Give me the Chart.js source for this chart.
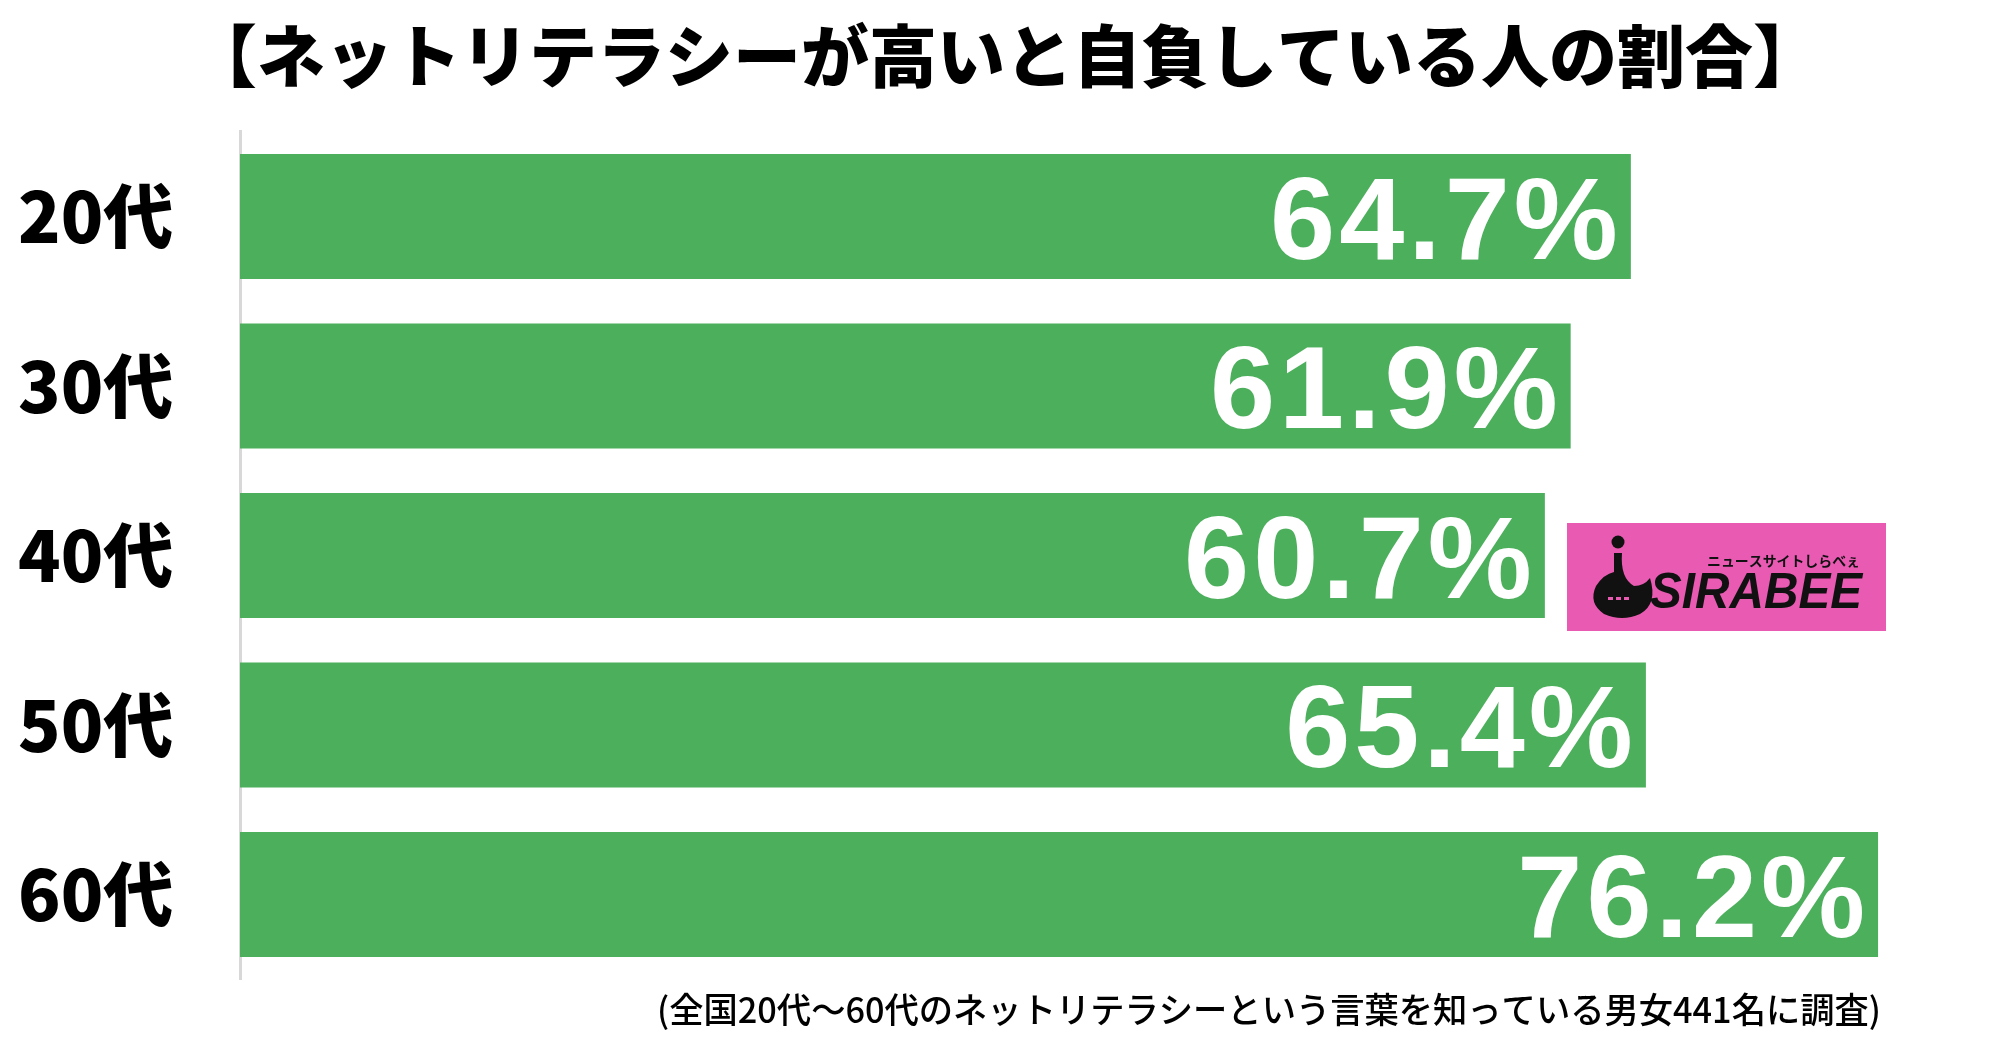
<!DOCTYPE html>
<html lang="ja">
<head>
<meta charset="utf-8">
<script src="https://cdn.jsdelivr.net/npm/chart.js@4.4.1/dist/chart.umd.min.js"></script>
<style>
  html, body { margin: 0; padding: 0; background: #ffffff; }
  #wrap { width: 2000px; height: 1046px; }
</style>
</head>
<body>
<div id="wrap"><canvas id="c" width="2000" height="1046"></canvas></div>
<script>
const titleText = '【ネットリテラシーが高いと自負している人の割合】';
const footnoteText = '(全国20代〜60代のネットリテラシーという言葉を知っている男女441名に調査)';
const categories = ['20代', '30代', '40代', '50代', '60代'];
const values = [64.7, 61.9, 60.7, 65.4, 76.2];
const axisMin = 0;
const axisMax = 81.5;

const valueLabels = {
  id: 'valueLabels',
  afterDatasetsDraw(chart) {
    const ctx = chart.ctx;
    const meta = chart.getDatasetMeta(0);
    ctx.save();
    ctx.fillStyle = '#ffffff';
    ctx.font = 'bold 117px "Liberation Sans", Arial, sans-serif';
    ctx.textAlign = 'right';
    ctx.textBaseline = 'alphabetic';
    ctx.letterSpacing = '4px';
    meta.data.forEach((bar, i) => {
      const txt = values[i].toFixed(1) + '%';
      ctx.fillText(txt, bar.x - 9, bar.y + 42);
    });
    ctx.restore();
  }
};

const extras = {
  id: 'extras',
  afterDraw(chart) {
    const ctx = chart.ctx;
    ctx.save();
    // footnote
    ctx.fillStyle = '#000000';
    ctx.font = '500 35px "Noto Sans CJK JP", sans-serif';
    ctx.textBaseline = 'middle';
    ctx.textAlign = 'left';
    const w = ctx.measureText(footnoteText).width;
    const target = 1224;
    const sx = target / w;
    ctx.save();
    ctx.translate(657, 1010);
    ctx.scale(sx, 1);
    ctx.fillText(footnoteText, 0, 0);
    ctx.restore();

    // SIRABEE logo
    const lx = 1567, ly = 523, lw = 319, lh = 108;
    ctx.fillStyle = '#E95AB3';
    ctx.fillRect(lx, ly, lw, lh);
    ctx.fillStyle = '#111111';
    // icon dot
    ctx.beginPath();
    ctx.arc(1618, 542, 6.5, 0, Math.PI * 2);
    ctx.fill();
    // icon body
    ctx.beginPath();
    ctx.moveTo(1614, 553);
    ctx.lineTo(1622, 553);
    ctx.quadraticCurveTo(1620, 578, 1634, 586);
    ctx.quadraticCurveTo(1644, 586, 1650, 578);
    ctx.quadraticCurveTo(1658, 604, 1640, 614);
    ctx.quadraticCurveTo(1622, 622, 1604, 614);
    ctx.quadraticCurveTo(1588, 603, 1596, 586);
    ctx.quadraticCurveTo(1604, 574, 1614, 572);
    ctx.closePath();
    ctx.fill();
    // eyes
    ctx.fillStyle = '#E95AB3';
    ctx.fillRect(1608, 597, 5, 3);
    ctx.fillRect(1616, 597, 5, 3);
    ctx.fillRect(1624, 597, 5, 3);
    // wordmark
    ctx.fillStyle = '#111111';
    ctx.font = 'italic 900 50px "Liberation Sans", Arial, sans-serif';
    ctx.textAlign = 'left';
    ctx.textBaseline = 'alphabetic';
    const word = 'SIRABEE';
    const ww = ctx.measureText(word).width;
    ctx.save();
    ctx.translate(1650, 608);
    ctx.scale(212 / ww, 1);
    ctx.fillText(word, 0, 0);
    ctx.restore();
    ctx.font = 'bold 14px "Noto Sans CJK JP", sans-serif';
    const sub = 'ニュースサイトしらべぇ';
    const sw = ctx.measureText(sub).width;
    ctx.save();
    ctx.translate(1707, 566);
    ctx.scale(153 / sw, 1);
    ctx.fillText(sub, 0, 0);
    ctx.restore();
    ctx.restore();
  }
};

new Chart(document.getElementById('c'), {
  type: 'bar',
  data: {
    labels: categories,
    datasets: [{
      data: values,
      backgroundColor: '#4CAF5C',
      borderWidth: 0,
      barPercentage: 0.7375,
      categoryPercentage: 1.0
    }]
  },
  options: {
    indexAxis: 'y',
    responsive: false,
    animation: false,
    devicePixelRatio: 1,
    layout: { padding: { left: 18, right: 8, top: 0, bottom: 66.75 } },
    plugins: {
      legend: { display: false },
      tooltip: { enabled: false },
      title: {
        display: true,
        text: titleText,
        color: '#000000',
        font: { family: '"Noto Sans CJK JP", sans-serif', size: 68, weight: 900, lineHeight: 1.2 },
        padding: { top: 15, bottom: 35.15 }
      }
    },
    scales: {
      x: {
        display: false,
        min: axisMin,
        max: axisMax
      },
      y: {
        afterFit(scale) { scale.width = 222; },
        grid: { display: false, drawTicks: false },
        border: { display: true, color: '#d8d8d8', width: 3 },
        ticks: {
          color: '#000000',
          padding: 0,
          crossAlign: 'far',
          font: { family: '"Noto Sans CJK JP", sans-serif', size: 70, weight: 900 }
        }
      }
    }
  },
  plugins: [valueLabels, extras]
});
</script>
</body>
</html>
